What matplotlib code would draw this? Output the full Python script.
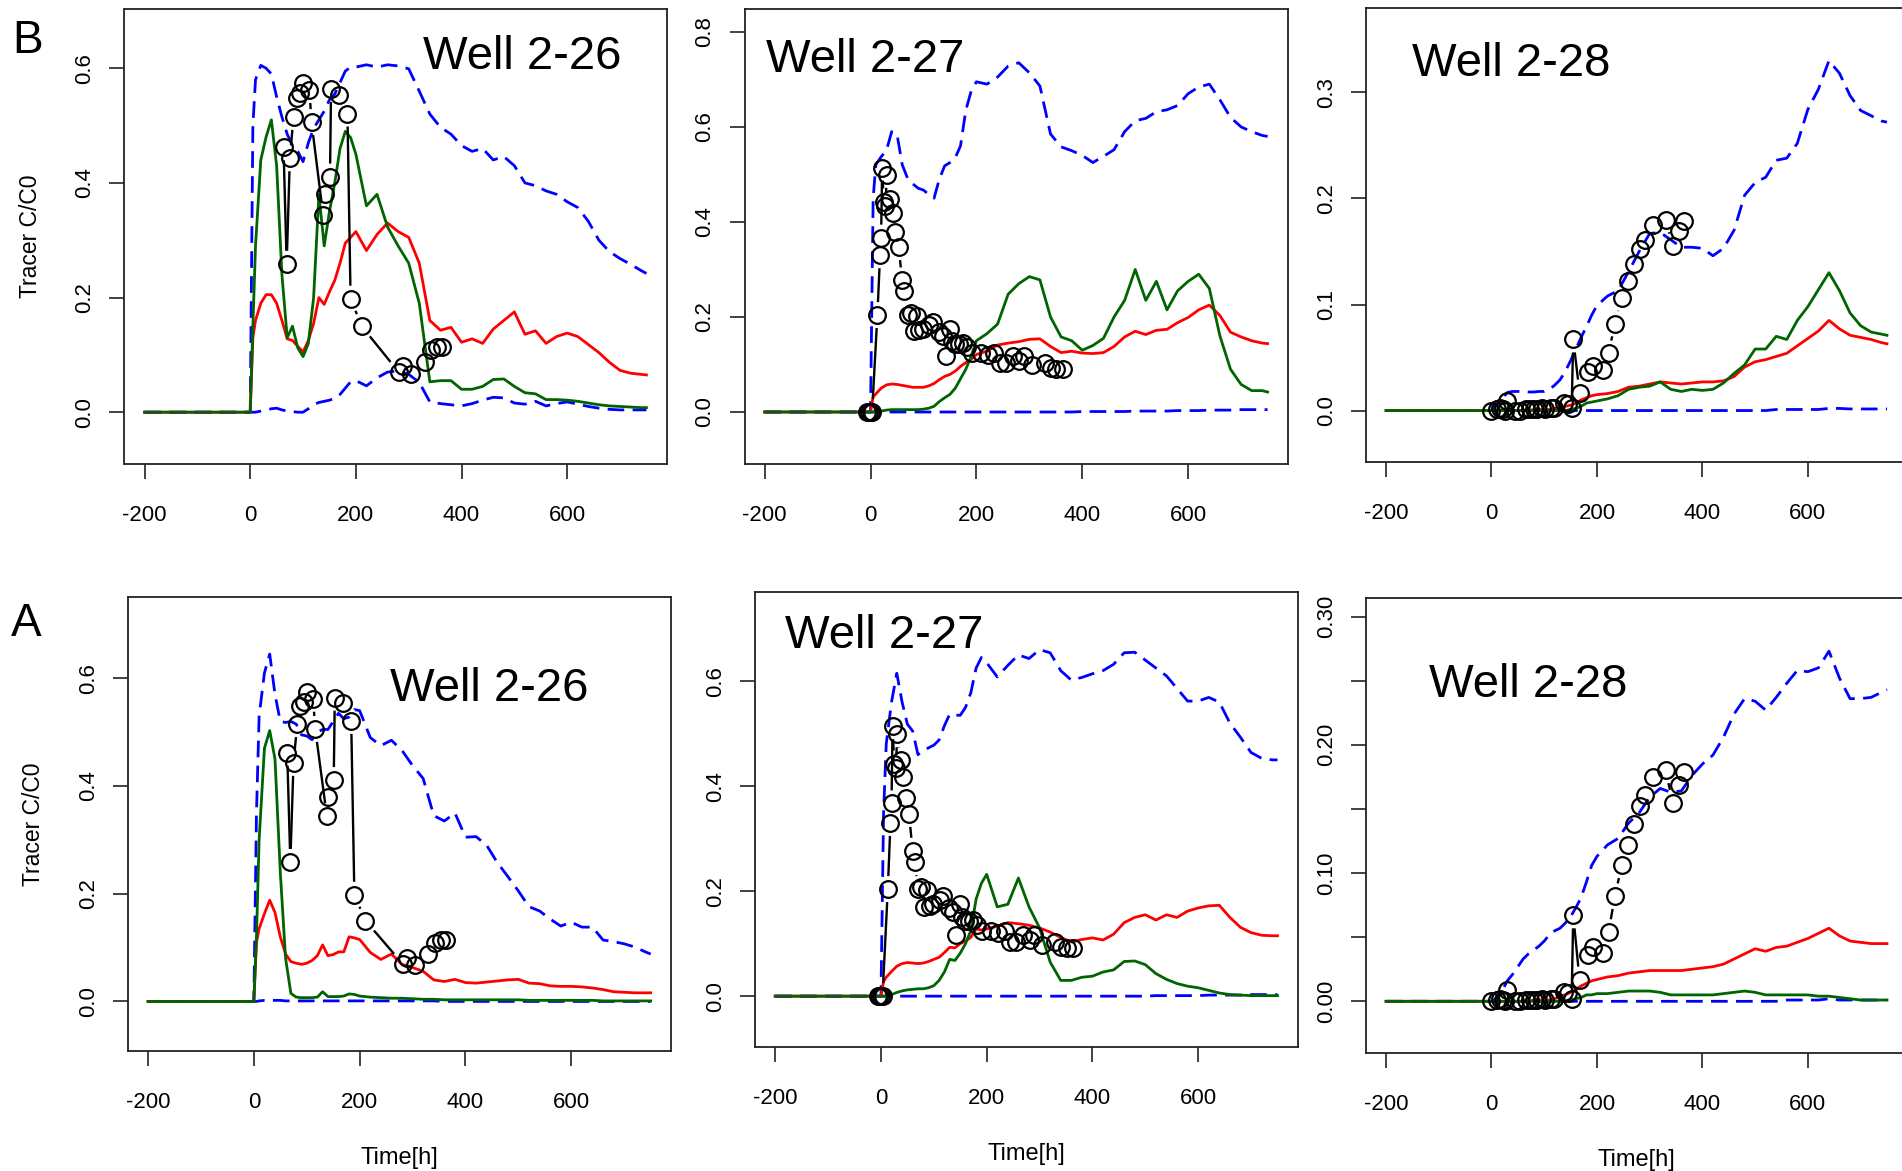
import numpy as np
import matplotlib
matplotlib.use("Agg")
import matplotlib.pyplot as plt

plt.rcParams['font.family'] = 'Liberation Sans'
plt.rcParams['axes.unicode_minus'] = False

# model output times [h]
T = [-200, 0, 5,
     10, 20, 30, 40, 50, 60, 70, 80, 90, 100,
     110, 120, 130, 140, 150, 160, 170, 180, 190, 200,
     220, 240, 260, 280, 300, 320, 340, 360, 380, 400,
     420, 440, 460, 480, 500, 520, 540, 560, 580, 600,
     620, 640, 660, 680, 700, 720, 740, 750]

# observed tracer C/C0 at each well
obs26_t = [63, 69, 75, 82, 88, 94, 100, 112, 116, 138, 141, 151, 153, 168, 184, 190,
           211, 281, 289, 305, 330, 342, 354, 363]
obs26_c = [0.462, 0.259, 0.443, 0.515, 0.548, 0.556, 0.575, 0.562, 0.506, 0.344, 0.380,
           0.411, 0.564, 0.554, 0.521, 0.198, 0.150, 0.070, 0.081, 0.067, 0.088, 0.109,
           0.114, 0.114]

obs27_t = [-6, -3, 0, 3, 13, 18, 20, 22, 25, 28, 31, 37, 42, 47,
           53, 60, 64, 70, 76, 82, 88, 92, 99, 111,
           118, 129, 137, 142, 150, 153, 159, 167, 174, 182,
           191, 208, 221, 234, 245, 256, 269, 281, 290, 305,
           329, 341, 351, 363]
obs27_c = [0, 0, 0, 0, 0.204, 0.330, 0.367, 0.514, 0.443, 0.434, 0.499, 0.449, 0.418, 0.378,
           0.347, 0.277, 0.255, 0.204, 0.208, 0.170, 0.202, 0.172, 0.175, 0.183,
           0.190, 0.168, 0.161, 0.117, 0.175, 0.150, 0.143, 0.144, 0.145, 0.136,
           0.125, 0.125, 0.121, 0.125, 0.103, 0.103, 0.117, 0.107, 0.117, 0.098,
           0.103, 0.093, 0.091, 0.091]

obs28_t = [0, 11, 16, 22, 25, 29, 44, 55, 65, 73,
           80, 87, 95, 102, 113, 118, 138, 146, 152, 155,
           167, 183, 193, 211, 222, 234, 247, 258, 271, 282,
           291, 306, 330, 344, 355, 365]
obs28_c = [0, 0.001, 0.002, 0.001, 0.0, 0.009, 0, 0, 0.001, 0.001,
           0.001, 0.001, 0.002, 0.001, 0.002, 0.002, 0.007, 0.0065, 0.002, 0.067,
           0.017, 0.036, 0.042, 0.038, 0.054, 0.082, 0.106, 0.122, 0.138, 0.152,
           0.161, 0.175, 0.180, 0.155, 0.169, 0.179]

# ---- case B ----
b26_blue = [0, 0, 0.50,
            0.58, 0.605, 0.60, 0.59, 0.55, 0.515, 0.485, 0.465, 0.455, 0.437,
            0.47, 0.495, 0.51, 0.525, 0.545, 0.555, 0.575, 0.595, 0.602, 0.602,
            0.606, 0.602, 0.606, 0.604, 0.599, 0.56, 0.52, 0.497, 0.485, 0.465,
            0.455, 0.46, 0.44, 0.446, 0.43, 0.40, 0.395, 0.386, 0.38, 0.367,
            0.357, 0.333, 0.30, 0.28, 0.268, 0.258, 0.247, 0.242]
b26_blue2 = [0, 0, 0.0,
             0.0, 0.002, 0.004, 0.006, 0.007, 0.004, 0.002, 0.001, 0.0, 0.0,
             0.006, 0.013, 0.017, 0.019, 0.021, 0.024, 0.031, 0.042, 0.053, 0.055,
             0.046, 0.06, 0.07, 0.072, 0.066, 0.052, 0.018, 0.015, 0.013, 0.011,
             0.015, 0.021, 0.026, 0.025, 0.016, 0.014, 0.019, 0.011, 0.015, 0.018,
             0.014, 0.01, 0.007, 0.005, 0.004, 0.004, 0.004, 0.004]
b26_red = [0, 0, 0.13,
           0.16, 0.19, 0.205, 0.205, 0.19, 0.16, 0.128, 0.125, 0.115, 0.105,
           0.125, 0.155, 0.2, 0.188, 0.21, 0.23, 0.26, 0.295, 0.305, 0.315,
           0.282, 0.31, 0.33, 0.315, 0.305, 0.26, 0.16, 0.143, 0.148, 0.122,
           0.128, 0.12, 0.145, 0.16, 0.175, 0.136, 0.142, 0.12, 0.132, 0.138,
           0.132, 0.118, 0.104, 0.087, 0.073, 0.068, 0.066, 0.065]
b26_green = [0, 0, 0.15,
             0.29, 0.44, 0.48, 0.51, 0.43, 0.24, 0.13, 0.15, 0.112, 0.097,
             0.12, 0.2, 0.38, 0.29, 0.35, 0.40, 0.46, 0.49, 0.479, 0.45,
             0.36, 0.38, 0.323, 0.29, 0.26, 0.19, 0.053, 0.055, 0.055, 0.04,
             0.04, 0.045, 0.057, 0.058, 0.045, 0.034, 0.032, 0.022, 0.022, 0.021,
             0.019, 0.016, 0.013, 0.011, 0.01, 0.009, 0.008, 0.008]

b27_blue = [0, 0, 0.45,
            0.52, 0.537, 0.55, 0.59, 0.585, 0.52, 0.492, 0.48, 0.471, 0.467,
            0.458, 0.45, 0.49, 0.518, 0.525, 0.535, 0.56, 0.635, 0.675, 0.695,
            0.69, 0.705, 0.728, 0.735, 0.714, 0.686, 0.585, 0.558, 0.55, 0.54,
            0.525, 0.538, 0.552, 0.59, 0.613, 0.618, 0.632, 0.636, 0.645, 0.67,
            0.684, 0.69, 0.657, 0.62, 0.6, 0.59, 0.582, 0.58]
b27_blue2 = [0, 0, 0,
             0, 0, 0, 0, 0, 0, 0, 0, 0, 0,
             0, 0, 0, 0, 0, 0, 0, 0, 0, 0,
             0, 0, 0, 0, 0, 0, 0, 0, 0, 0.001,
             0.001, 0.001, 0.001, 0.001, 0.002, 0.002, 0.002, 0.002, 0.003, 0.003,
             0.003, 0.004, 0.004, 0.004, 0.005, 0.005, 0.005, 0.005]
b27_red = [0, 0, 0.032,
           0.038, 0.05, 0.057, 0.059, 0.058, 0.056, 0.054, 0.052, 0.052, 0.052,
           0.055, 0.06, 0.068, 0.075, 0.079, 0.086, 0.096, 0.104, 0.111, 0.121,
           0.128, 0.141, 0.145, 0.148, 0.153, 0.154, 0.138, 0.125, 0.128, 0.124,
           0.123, 0.125, 0.138, 0.158, 0.17, 0.163, 0.172, 0.174, 0.188, 0.199,
           0.215, 0.225, 0.203, 0.168, 0.158, 0.15, 0.145, 0.144]
b27_green = [0, 0, 0.0,
             0.001, 0.002, 0.004, 0.005, 0.005, 0.005, 0.005, 0.005, 0.005, 0.006,
             0.008, 0.012, 0.022, 0.03, 0.037, 0.05, 0.07, 0.09, 0.117, 0.15,
             0.165, 0.185, 0.248, 0.27, 0.285, 0.278, 0.2, 0.158, 0.15, 0.13,
             0.14, 0.155, 0.2, 0.235, 0.3, 0.235, 0.275, 0.215, 0.255, 0.275,
             0.29, 0.26, 0.16, 0.09, 0.058, 0.045, 0.045, 0.042]

b28_blue = [0, 0, 0.003,
            0.006, 0.011, 0.017, 0.018, 0.018, 0.018, 0.0175, 0.0175, 0.018, 0.018,
            0.02, 0.024, 0.029, 0.037, 0.047, 0.058, 0.069, 0.079, 0.09, 0.099,
            0.108, 0.113, 0.131, 0.15, 0.167, 0.168, 0.161, 0.154, 0.154, 0.153,
            0.146, 0.153, 0.17, 0.203, 0.215, 0.22, 0.236, 0.238, 0.252, 0.284,
            0.303, 0.33, 0.318, 0.297, 0.283, 0.278, 0.273, 0.272]
b28_blue2 = [0, 0, 0,
             0, 0, 0, 0, 0, 0, 0, 0, 0, 0,
             0, 0, 0, 0, 0, 0, 0, 0, 0, 0,
             0, 0, 0, 0, 0, 0, 0, 0, 0, 0,
             0, 0, 0, 0, 0, 0, 0.001, 0.001, 0.001, 0.001,
             0.001, 0.002, 0.002, 0.0015, 0.0015, 0.0015, 0.0015, 0.0015]
b28_red = [0, 0, 0,
           0, 0, 0, 0, 0, 0, 0, 0.001, 0.001, 0.001,
           0.001, 0.002, 0.003, 0.004, 0.005, 0.007, 0.01, 0.012, 0.014, 0.015,
           0.016, 0.018, 0.022, 0.023, 0.025, 0.027, 0.026, 0.025, 0.026, 0.027,
           0.027, 0.028, 0.032, 0.041, 0.046, 0.048, 0.051, 0.054, 0.061, 0.068,
           0.075, 0.085, 0.077, 0.071, 0.069, 0.067, 0.064, 0.063]
b28_green = [0, 0, 0,
             0, 0, 0, 0, 0, 0, 0, 0, 0, 0,
             0, 0, 0, 0, 0.001, 0.002, 0.004, 0.007, 0.008, 0.009,
             0.011, 0.014, 0.02, 0.022, 0.023, 0.027, 0.02, 0.018, 0.02, 0.019,
             0.02, 0.026, 0.035, 0.043, 0.058, 0.058, 0.07, 0.067, 0.085, 0.098,
             0.114, 0.13, 0.113, 0.092, 0.08, 0.074, 0.072, 0.071]

# ---- case A ----
a26_blue = [0, 0, 0.35,
            0.53, 0.61, 0.645, 0.57, 0.52, 0.518, 0.52, 0.515, 0.495, 0.493,
            0.486, 0.50, 0.505, 0.505, 0.52, 0.535, 0.525, 0.528, 0.542, 0.54,
            0.49, 0.475, 0.485, 0.466, 0.438, 0.414, 0.345, 0.335, 0.35, 0.305,
            0.306, 0.29, 0.258, 0.232, 0.205, 0.176, 0.168, 0.153, 0.14, 0.147,
            0.138, 0.138, 0.114, 0.111, 0.107, 0.101, 0.092, 0.088]
a26_blue2 = [0, 0, 0.0,
             0.001, 0.002, 0.002, 0.002, 0.002, 0.001, 0.001, 0.001, 0.001, 0.001,
             0.001, 0.001, 0.001, 0.001, 0.001, 0.001, 0.001, 0.001, 0.001, 0.001,
             0.001, 0.001, 0.001, 0.001, 0.001, 0.001, 0.001, 0.0, 0.0, 0.0,
             0.0, 0.0, 0.0, 0.0, 0.0, 0.0, 0.0, 0.0, 0.0, 0.0,
             0.0, 0.0, 0.0, 0.0, 0.0, 0.0, 0.0, 0.0]
a26_red = [0, 0, 0.11,
           0.135, 0.163, 0.188, 0.165, 0.12, 0.088, 0.074, 0.071, 0.069, 0.071,
           0.076, 0.085, 0.105, 0.085, 0.087, 0.092, 0.092, 0.12, 0.118, 0.115,
           0.091, 0.078, 0.088, 0.069, 0.063, 0.056, 0.04, 0.037, 0.041, 0.035,
           0.034, 0.036, 0.038, 0.04, 0.041, 0.034, 0.033, 0.029, 0.028, 0.028,
           0.027, 0.025, 0.022, 0.018, 0.017, 0.016, 0.016, 0.016]
a26_green = [0, 0, 0.12,
             0.3, 0.47, 0.503, 0.45, 0.24, 0.08, 0.015, 0.008, 0.007, 0.007,
             0.007, 0.008, 0.018, 0.009, 0.009, 0.009, 0.01, 0.014, 0.013, 0.01,
             0.008, 0.007, 0.006, 0.006, 0.005, 0.004, 0.004, 0.003, 0.003, 0.003,
             0.003, 0.003, 0.003, 0.003, 0.003, 0.002, 0.002, 0.002, 0.002, 0.002,
             0.002, 0.002, 0.001, 0.001, 0.001, 0.001, 0.001, 0.001]

a27_blue = [0, 0, 0.35,
            0.48, 0.56, 0.615, 0.56, 0.518, 0.505, 0.46, 0.467, 0.473, 0.478,
            0.488, 0.515, 0.537, 0.535, 0.535, 0.55, 0.578, 0.625, 0.645, 0.635,
            0.608, 0.63, 0.65, 0.643, 0.66, 0.654, 0.62, 0.602, 0.607, 0.614,
            0.62, 0.632, 0.654, 0.655, 0.64, 0.625, 0.61, 0.586, 0.562, 0.562,
            0.569, 0.56, 0.52, 0.493, 0.464, 0.453, 0.45, 0.45]
a27_blue2 = [0, 0, 0,
             0, 0, 0, 0, 0, 0, 0, 0, 0, 0,
             0, 0, 0, 0, 0, 0, 0, 0, 0, 0,
             0, 0, 0, 0, 0, 0, 0, 0, 0, 0,
             0, 0, 0, 0, 0, 0.001, 0.001, 0.001, 0.001, 0.001,
             0.002, 0.002, 0.002, 0.002, 0.003, 0.003, 0.003, 0.003]
a27_red = [0, 0, 0.028,
           0.036, 0.047, 0.057, 0.062, 0.064, 0.063, 0.062, 0.063, 0.066, 0.07,
           0.074, 0.083, 0.093, 0.092, 0.1, 0.105, 0.112, 0.128, 0.126, 0.128,
           0.133, 0.14, 0.138, 0.135, 0.13, 0.122, 0.112, 0.103, 0.108, 0.111,
           0.107, 0.118, 0.14, 0.15, 0.155, 0.145, 0.155, 0.15, 0.162, 0.168,
           0.172, 0.173, 0.15, 0.131, 0.121, 0.116, 0.115, 0.115]
a27_green = [0, 0, 0.0,
             0.001, 0.003, 0.007, 0.01, 0.012, 0.013, 0.014, 0.014, 0.016, 0.02,
             0.03, 0.046, 0.07, 0.068, 0.082, 0.1, 0.125, 0.185, 0.215, 0.232,
             0.17, 0.175, 0.225, 0.17, 0.13, 0.065, 0.03, 0.03, 0.036, 0.038,
             0.046, 0.05, 0.066, 0.067, 0.06, 0.043, 0.032, 0.024, 0.019, 0.016,
             0.011, 0.006, 0.003, 0.002, 0.001, 0.001, 0.001, 0.001]

a28_blue = [0, 0, 0.001,
            0.003, 0.008, 0.016, 0.021, 0.027, 0.033, 0.037, 0.04, 0.043, 0.047,
            0.052, 0.055, 0.057, 0.061, 0.066, 0.073, 0.081, 0.093, 0.106, 0.113,
            0.122, 0.127, 0.139, 0.147, 0.159, 0.166, 0.163, 0.164, 0.176, 0.185,
            0.192, 0.206, 0.224, 0.236, 0.234, 0.227, 0.237, 0.248, 0.258, 0.257,
            0.26, 0.273, 0.252, 0.236, 0.236, 0.237, 0.241, 0.243]
a28_blue2 = [0, 0, 0,
             0, 0, 0, 0, 0, 0, 0, 0, 0, 0,
             0, 0, 0, 0, 0, 0, 0, 0, 0, 0,
             0, 0, 0, 0, 0, 0, 0, 0, 0, 0,
             0, 0, 0, 0, 0, 0, 0, 0.001, 0.001, 0.001,
             0.001, 0.002, 0.001, 0.001, 0.001, 0.001, 0.001, 0.001]
a28_red = [0, 0, 0,
           0, 0, 0, 0, 0, 0, 0, 0.001, 0.001, 0.001,
           0.001, 0.002, 0.004, 0.005, 0.007, 0.009, 0.012, 0.014, 0.016, 0.017,
           0.019, 0.02, 0.022, 0.023, 0.024, 0.024, 0.024, 0.024, 0.025, 0.026,
           0.027, 0.029, 0.033, 0.037, 0.041, 0.039, 0.042, 0.043, 0.046, 0.049,
           0.053, 0.057, 0.051, 0.047, 0.046, 0.045, 0.045, 0.045]
a28_green = [0, 0, 0,
             0, 0, 0, 0, 0, 0, 0, 0, 0, 0,
             0, 0, 0, 0, 0.001, 0.002, 0.003, 0.005, 0.005, 0.006,
             0.006, 0.007, 0.008, 0.008, 0.008, 0.007, 0.005, 0.005, 0.005, 0.005,
             0.005, 0.006, 0.007, 0.008, 0.007, 0.005, 0.005, 0.005, 0.005, 0.005,
             0.004, 0.004, 0.003, 0.002, 0.001, 0.001, 0.001, 0.001]

W, H = 1902, 1171
fig = plt.figure(figsize=(W / 100, H / 100), dpi=100)

GAP = 13  # px cut from each end of the obs segments (R type="b")


def box(left, right, top, bottom):
    return fig.add_axes([left / W, 1 - bottom / H, (right - left) / W, (bottom - top) / H])


def draw_obs(ax, t, c):
    xy = ax.transData.transform(np.column_stack([t, c]))
    back = ax.transData.inverted()
    for p, q in zip(xy[:-1], xy[1:]):
        d = q - p
        L = np.hypot(d[0], d[1])
        if L <= 2 * GAP:
            continue
        u = d / L
        a = back.transform(p + u * GAP)
        b = back.transform(q - u * GAP)
        ax.plot([a[0], b[0]], [a[1], b[1]], color='black', lw=1.7, solid_capstyle='butt')
    ax.plot(t, c, 'o', ms=12, mfc='none', mec='black', mew=1.6)


panels = [
    # box px, ylim, yticks, yticklabels, series, obs, well label pos
    dict(px=(124.5, 666.5, 8.6, 463.8), ylim=(-0.090, 0.704),
         yt=[0, 0.2, 0.4, 0.6], yl=['0.0', '0.2', '0.4', '0.6'],
         s=(b26_blue, b26_blue2, b26_red, b26_green), obs=(obs26_t, obs26_c),
         name='Well 2-26', npos=(0.550, 0.867), ylab=True, xlab=False),
    dict(px=(744.5, 1287.7, 8.6, 463.8), ylim=(-0.109, 0.849),
         yt=[0, 0.2, 0.4, 0.6, 0.8], yl=['0.0', '0.2', '0.4', '0.6', '0.8'],
         s=(b27_blue, b27_blue2, b27_red, b27_green), obs=(obs27_t, obs27_c),
         name='Well 2-27', npos=(0.040, 0.860), ylab=False, xlab=False),
    dict(px=(1366, 1907, 7.6, 462.5), ylim=(-0.049, 0.380),
         yt=[0, 0.1, 0.2, 0.3], yl=['0.0', '0.1', '0.2', '0.3'],
         s=(b28_blue, b28_blue2, b28_red, b28_green), obs=(obs28_t, obs28_c),
         name='Well 2-28', npos=(0.085, 0.849), ylab=False, xlab=False),
    dict(px=(127.9, 670.8, 597.0, 1051.2), ylim=(-0.0924, 0.751),
         yt=[0, 0.2, 0.4, 0.6], yl=['0.0', '0.2', '0.4', '0.6'],
         s=(a26_blue, a26_blue2, a26_red, a26_green), obs=(obs26_t, obs26_c),
         name='Well 2-26', npos=(0.483, 0.772), ylab=True, xlab=True),
    dict(px=(755.1, 1297.6, 592.4, 1047.4), ylim=(-0.0976, 0.769),
         yt=[0, 0.2, 0.4, 0.6], yl=['0.0', '0.2', '0.4', '0.6'],
         s=(a27_blue, a27_blue2, a27_red, a27_green), obs=(obs27_t, obs27_c),
         name='Well 2-27', npos=(0.055, 0.878), ylab=False, xlab=True),
    dict(px=(1366, 1907, 597.7, 1053.0), ylim=(-0.0403, 0.3147),
         yt=[0, 0.05, 0.1, 0.15, 0.2, 0.25, 0.3],
         yl=['0.00', '', '0.10', '', '0.20', '', '0.30'],
         s=(a28_blue, a28_blue2, a28_red, a28_green), obs=(obs28_t, obs28_c),
         name='Well 2-28', npos=(0.116, 0.782), ylab=False, xlab=True),
]

dash = (0, (6, 3))
for p in panels:
    ax = box(*p['px'])
    ax.set_xlim(-238, 788)
    ax.set_ylim(*p['ylim'])
    blue, blue2, red, green = p['s']
    ax.plot(T, blue, color='#0000ff', lw=2.0, ls=dash)
    ax.plot(T, blue2, color='#0000ff', lw=2.0, ls=dash)
    ax.plot(T, red, color='#ff0000', lw=2.0)
    ax.plot(T, green, color='#006400', lw=2.0)
    draw_obs(ax, *p['obs'])

    ax.set_xticks([-200, 0, 200, 400, 600])
    ax.set_yticks(p['yt'])
    ax.set_yticklabels(p['yl'])
    ax.tick_params(direction='out', length=11, width=1.2, labelsize=16, color='#222222')
    ax.tick_params(axis='x', pad=18.5)
    ax.tick_params(axis='y', pad=10)
    for lab in ax.get_yticklabels():
        lab.set_rotation(90)
        lab.set_va('center')
    for sp in ax.spines.values():
        sp.set_linewidth(1.3)
        sp.set_color('#222222')

    ax.text(p['npos'][0], p['npos'][1], p['name'], transform=ax.transAxes,
            fontsize=34, ha='left', va='baseline')
    if p['ylab']:
        ax.set_ylabel('Tracer C/C0', fontsize=16.5)
        ax.yaxis.set_label_coords(-0.152, 0.5)
    if p['xlab']:
        ax.set_xlabel('Time[h]', fontsize=17)
        ax.xaxis.set_label_coords(0.5, -0.21)

fig.text(12 / W, 1 - 53.4 / H, 'B', fontsize=33, ha='left', va='baseline')
fig.text(11 / W, 1 - 635.8 / H, 'A', fontsize=33, ha='left', va='baseline')

fig.savefig('out.png', dpi=100)
